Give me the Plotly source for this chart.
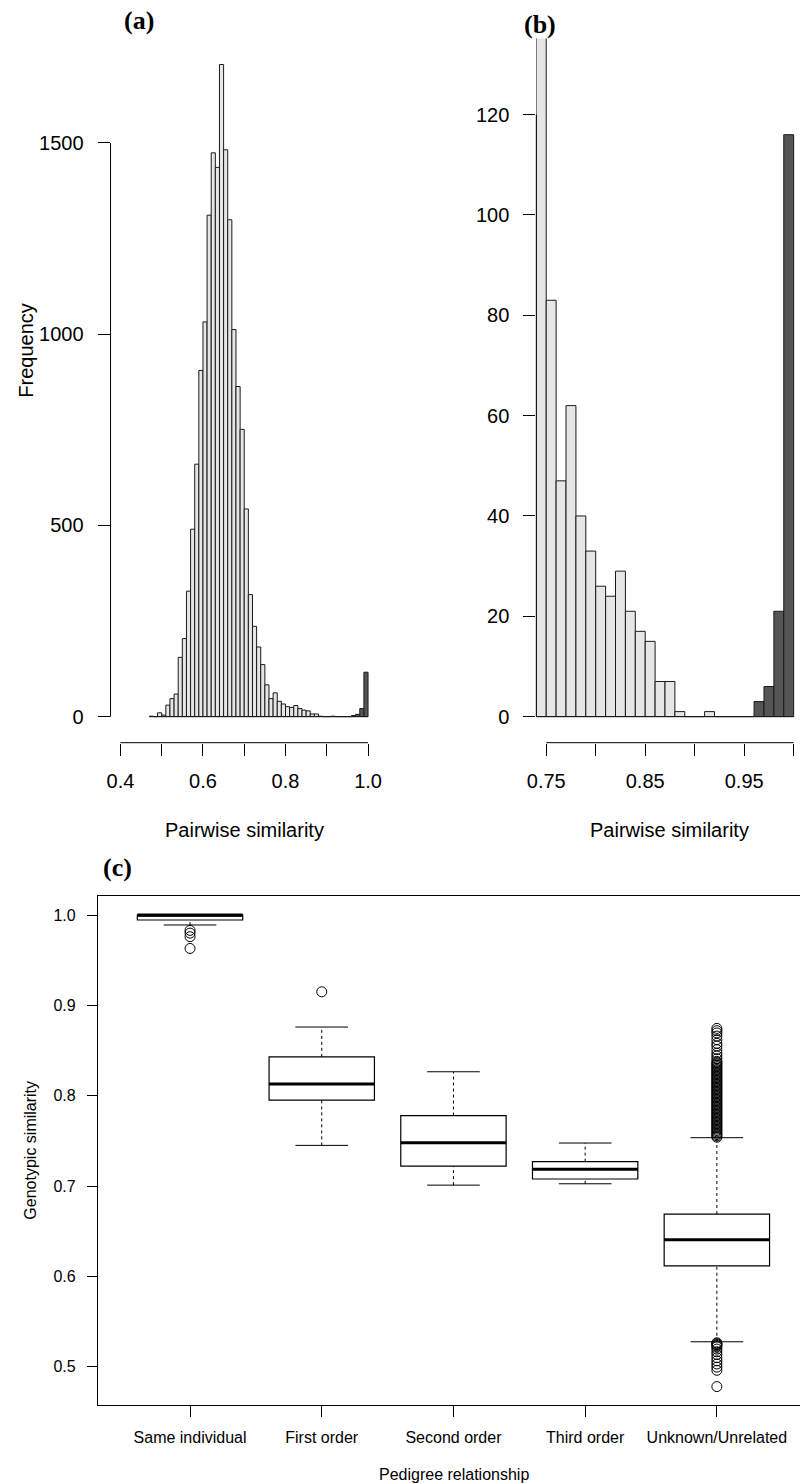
import plotly.graph_objects as go

W, H = 804, 1483

# ---------------- data ----------------
# Histogram bins (left edge), width 0.01, and frequencies
bin_left = [0.47, 0.48, 0.49, 0.50, 0.51, 0.52, 0.53, 0.54, 0.55, 0.56,
            0.57, 0.58, 0.59, 0.60, 0.61, 0.62, 0.63, 0.64, 0.65, 0.66,
            0.67, 0.68, 0.69, 0.70, 0.71, 0.72, 0.73, 0.74, 0.75, 0.76,
            0.77, 0.78, 0.79, 0.80, 0.81, 0.82, 0.83, 0.84, 0.85, 0.86,
            0.87, 0.88, 0.89, 0.90, 0.91, 0.92, 0.93, 0.94, 0.95, 0.96,
            0.97, 0.98, 0.99]
counts = [1, 0, 10, 4, 30, 47, 59, 155, 204, 328,
          490, 660, 905, 1032, 1311, 1474, 1436, 1705, 1482, 1299,
          1012, 863, 751, 543, 319, 236, 182, 136, 83, 47,
          62, 40, 33, 26, 24, 29, 21, 17, 15, 7,
          7, 1, 0, 0, 1, 0, 0, 0, 0, 3,
          6, 21, 116]
bin_width = 0.01
same_individual_from = 0.96   # bins drawn dark
zoom_from = 0.74              # panel (b) shows bins from here

ticks_a_x = [0.4, 0.5, 0.6, 0.7, 0.8, 0.9, 1.0]
labels_a_x = ["0.4", "", "0.6", "", "0.8", "", "1.0"]
ticks_a_y = [0, 500, 1000, 1500]
ticks_b_x = [0.75, 0.80, 0.85, 0.90, 0.95, 1.00]
labels_b_x = ["0.75", "", "0.85", "", "0.95", ""]
ticks_b_y = [0, 20, 40, 60, 80, 100, 120]

# Boxplot summary (panel c)
categories = ["Same individual", "First order", "Second order", "Third order", "Unknown/Unrelated"]
lower_whisker = [0.989, 0.745, 0.701, 0.7025, 0.5276]
q1 = [0.9945, 0.795, 0.722, 0.7078, 0.6117]
median = [1.0, 0.813, 0.748, 0.7185, 0.6405]
q3 = [1.0, 0.843, 0.778, 0.727, 0.669]
upper_whisker = [1.0, 0.876, 0.8265, 0.7476, 0.7535]
outliers = {
    "Same individual": [0.983, 0.980, 0.976, 0.963],
    "First order": [0.915],
    "Second order": [],
    "Third order": [],
    "Unknown/Unrelated": [
        0.8745, 0.872, 0.8695, 0.866, 0.862, 0.858, 0.855, 0.851, 0.847, 0.844,
        0.841, 0.838, 0.8365, 0.835, 0.8335, 0.832, 0.8305, 0.829, 0.8275, 0.826,
        0.8245, 0.823, 0.8215, 0.820, 0.8185, 0.817, 0.8155, 0.814, 0.8125, 0.811,
        0.8095, 0.808, 0.8065, 0.805, 0.8035, 0.802, 0.8005, 0.799, 0.7975, 0.796,
        0.7945, 0.793, 0.7915, 0.790, 0.7885, 0.787, 0.7855, 0.784, 0.7825, 0.781,
        0.7795, 0.778, 0.7765, 0.775, 0.7735, 0.772, 0.7705, 0.769, 0.7675, 0.766,
        0.7645, 0.763, 0.7615, 0.760, 0.7585, 0.757, 0.7555, 0.754,
        0.5265, 0.5255, 0.5245, 0.5235, 0.522, 0.5195, 0.5165, 0.5135, 0.510,
        0.5065, 0.503, 0.4995, 0.496, 0.478],
}
ticks_c_y = [0.5, 0.6, 0.7, 0.8, 0.9, 1.0]

# ---------------- layout geometry (pixels) ----------------
def px_x(p):
    return p / W

def px_y(p):
    return 1 - p / H

LIGHT = "#e6e6e6"
DARK = "#555555"
EDGE = "#1a1a1a"
SANS = "Liberation Sans, Arial, sans-serif"
SERIF = "Liberation Serif, Times New Roman, serif"

fig = go.Figure()

# Panel (a)
centers = [b + bin_width / 2 for b in bin_left]
colors = [DARK if b >= same_individual_from - 1e-9 else LIGHT for b in bin_left]
fig.add_trace(go.Bar(x=centers, y=counts, width=bin_width,
                     marker=dict(color=colors, line=dict(color=EDGE, width=1)),
                     xaxis="x", yaxis="y", hoverinfo="x+y"))

# Panel (b)
cb = [c for c, b in zip(centers, bin_left) if b >= zoom_from - 1e-9]
yb = [v for v, b in zip(counts, bin_left) if b >= zoom_from - 1e-9]
colb = [c for c, b in zip(colors, bin_left) if b >= zoom_from - 1e-9]
fig.add_trace(go.Bar(x=cb, y=yb, width=bin_width,
                     marker=dict(color=colb, line=dict(color=EDGE, width=1)),
                     xaxis="x2", yaxis="y2", hoverinfo="x+y"))

# Panel (c) boxes
pos = list(range(1, len(categories) + 1))
fig.add_trace(go.Box(x=pos, q1=q1, median=median, q3=q3,
                     lowerfence=q1, upperfence=q3, width=0.8, whiskerwidth=0,
                     fillcolor="white", line=dict(color="black", width=1.2),
                     boxpoints=False, xaxis="x3", yaxis="y3"))
# thick medians
mx, my = [], []
for p, m in zip(pos, median):
    mx += [p - 0.4, p + 0.4, None]
    my += [m, m, None]
fig.add_trace(go.Scatter(x=mx, y=my, mode="lines", line=dict(color="black", width=3),
                         xaxis="x3", yaxis="y3", hoverinfo="skip"))
# dashed whiskers
wx, wy = [], []
for p, a, b, c, d in zip(pos, lower_whisker, q1, q3, upper_whisker):
    if b > a:
        wx += [p, p, None]; wy += [a, b, None]
    if d > c:
        wx += [p, p, None]; wy += [c, d, None]
fig.add_trace(go.Scatter(x=wx, y=wy, mode="lines",
                         line=dict(color="black", width=1, dash="3px,3px"),
                         xaxis="x3", yaxis="y3", hoverinfo="skip"))
# caps
kx, ky = [], []
for p, a, d in zip(pos, lower_whisker, upper_whisker):
    kx += [p - 0.2, p + 0.2, None, p - 0.2, p + 0.2, None]
    ky += [a, a, None, d, d, None]
fig.add_trace(go.Scatter(x=kx, y=ky, mode="lines", line=dict(color="black", width=1),
                         xaxis="x3", yaxis="y3", hoverinfo="skip"))
# outliers
ox, oy = [], []
for p, cat in zip(pos, categories):
    for v in outliers[cat]:
        ox.append(p); oy.append(v)
fig.add_trace(go.Scatter(x=ox, y=oy, mode="markers",
                         marker=dict(symbol="circle-open", size=10, color="black",
                                     line=dict(width=1, color="black")),
                         xaxis="x3", yaxis="y3", cliponaxis=False))

# ---------------- axes ----------------
tickfont20 = dict(family=SANS, size=20, color="black")
tickfont16 = dict(family=SANS, size=16, color="black")
common = dict(showgrid=False, zeroline=False, showline=False, ticks="outside",
              tickcolor="black", tickwidth=1, fixedrange=True)

a_left, a_right = 103.2, 375.0
b_left = 536.0
top_ab, bot_ab = 38.4, 742.7
c_left, c_top, c_bot = 90.3, 895.7, 1405.0

fig.update_layout(
    width=W, height=H, margin=dict(l=0, r=0, t=0, b=0),
    paper_bgcolor="white", plot_bgcolor="white", showlegend=False,
    xaxis=dict(domain=[px_x(a_left), px_x(a_right)], range=[0.376, 1.024], anchor="y",
               tickvals=ticks_a_x, ticktext=labels_a_x, ticklen=12,
               tickfont=tickfont20, ticklabelstandoff=8, **common),
    yaxis=dict(domain=[px_y(bot_ab), px_y(top_ab)], range=[-68.2, 1773.2], anchor="x",
               tickvals=ticks_a_y, ticklen=12, tickfont=tickfont20,
               ticklabelstandoff=10, **common),
    xaxis2=dict(domain=[px_x(b_left), 1.0], range=[0.74, 0.74 + (W - b_left) / 1006.0],
                anchor="y2", tickvals=ticks_b_x, ticktext=labels_b_x, ticklen=12,
                tickfont=tickfont20, ticklabelstandoff=8, **common),
    yaxis2=dict(domain=[px_y(bot_ab), px_y(top_ab)], range=[-5.2, 135.2], anchor="x2",
                tickvals=ticks_b_y, ticklen=12, tickfont=tickfont20,
                ticklabelstandoff=10, **common),
    xaxis3=dict(domain=[px_x(c_left), 1.0], range=[0.3, 5.0 + (W - 719.5) / 133.875],
                anchor="y3", tickvals=pos, ticktext=categories, ticklen=11,
                tickfont=tickfont16, ticklabelstandoff=7,
                showgrid=False, zeroline=False, showline=True, mirror=True,
                linecolor="black", linewidth=1, ticks="outside",
                tickcolor="black", tickwidth=1, fixedrange=True),
    yaxis3=dict(domain=[px_y(c_bot), px_y(c_top)], range=[0.4576, 1.0214], anchor="x3",
                tickvals=ticks_c_y, tickformat=".1f", ticklen=10,
                tickfont=tickfont16, ticklabelstandoff=8,
                showgrid=False, zeroline=False, showline=True, mirror=False,
                linecolor="black", linewidth=1, ticks="outside",
                tickcolor="black", tickwidth=1, fixedrange=True),
)

# R-style axis lines spanning first to last tick, and histogram baselines
shapes = [
    dict(type="line", xref="x", yref="paper", x0=ticks_a_x[0], x1=ticks_a_x[-1],
         y0=px_y(bot_ab), y1=px_y(bot_ab), line=dict(color="black", width=1)),
    dict(type="line", xref="paper", yref="y", x0=px_x(a_left), x1=px_x(a_left),
         y0=ticks_a_y[0], y1=ticks_a_y[-1], line=dict(color="black", width=1)),
    dict(type="line", xref="x2", yref="paper", x0=ticks_b_x[0], x1=ticks_b_x[-1],
         y0=px_y(bot_ab), y1=px_y(bot_ab), line=dict(color="black", width=1)),
    dict(type="line", xref="paper", yref="y2", x0=px_x(b_left), x1=px_x(b_left),
         y0=ticks_b_y[0], y1=ticks_b_y[-1], line=dict(color="black", width=1)),
    dict(type="line", xref="x", yref="y", x0=bin_left[0], x1=bin_left[-1] + bin_width,
         y0=0, y1=0, line=dict(color=EDGE, width=1)),
    dict(type="line", xref="x2", yref="y2", x0=zoom_from, x1=bin_left[-1] + bin_width,
         y0=0, y1=0, line=dict(color=EDGE, width=1)),
]
fig.update_layout(shapes=shapes)

def ann(text, x, y, size, family=SANS, angle=0, bold=False):
    return dict(text=("<b>%s</b>" % text) if bold else text, x=px_x(x), y=px_y(y),
                xref="paper", yref="paper", showarrow=False, textangle=angle,
                xanchor="center", yanchor="middle",
                font=dict(family=family, size=size, color="black"))

fig.update_layout(annotations=[
    ann("(a)", 132, 20, 26, SERIF, bold=True),
    ann("(b)", 540, 24, 26, SERIF, bold=True),
    ann("(c)", 110, 867, 26, SERIF, bold=True),
    ann("Frequency", 17, 350, 20, angle=-90),
    ann("Pairwise similarity", (a_left + a_right) / 2, 830, 20),
    ann("Pairwise similarity", 671.8, 830, 20),
    ann("Genotypic similarity", 21, 1150, 16, angle=-90),
    ann("Pedigree relationship", 452, 1474, 16),
])

fig.write_html("out.html")
